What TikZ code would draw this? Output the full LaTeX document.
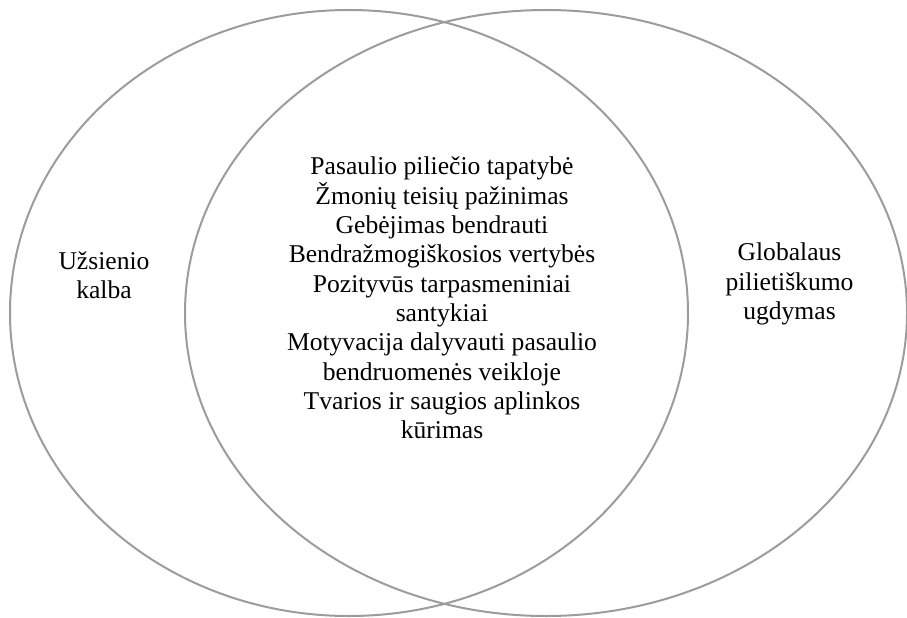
\documentclass[tikz,border=0pt]{standalone}
\usepackage{fontspec}
\setmainfont{Liberation Serif}
\usetikzlibrary{positioning}

\begin{document}
\begin{tikzpicture}[x=1pt, y=-1pt, every node/.style={font=\fontsize{25.6}{29.3}\selectfont, align=center, inner sep=0pt}]
    \useasboundingbox (0,0) rectangle (907,618);
    \foreach \cx/\rx in {349/339,546/361} {
        \draw[gray!78, line width=2pt] (\cx,313) ellipse [x radius=\rx, y radius=303];
    }
    \node (common) at (442,298) {Pasaulio piliečio tapatybė\\
        Žmonių teisių pažinimas\\
        Gebėjimas bendrauti\\
        Bendražmogiškosios vertybės\\
        Pozityvūs tarpasmeniniai\\
        santykiai\\
        Motyvacija dalyvauti pasaulio\\
        bendruomenės veikloje\\
        Tvarios ir saugios aplinkos\\
        kūrimas};
    \node (lang) at (104,275) {Užsienio\\kalba};
    \node (civic) at (789.5,284) {Globalaus\\pilietiškumo\\ugdymas};
\end{tikzpicture}
\end{document}
